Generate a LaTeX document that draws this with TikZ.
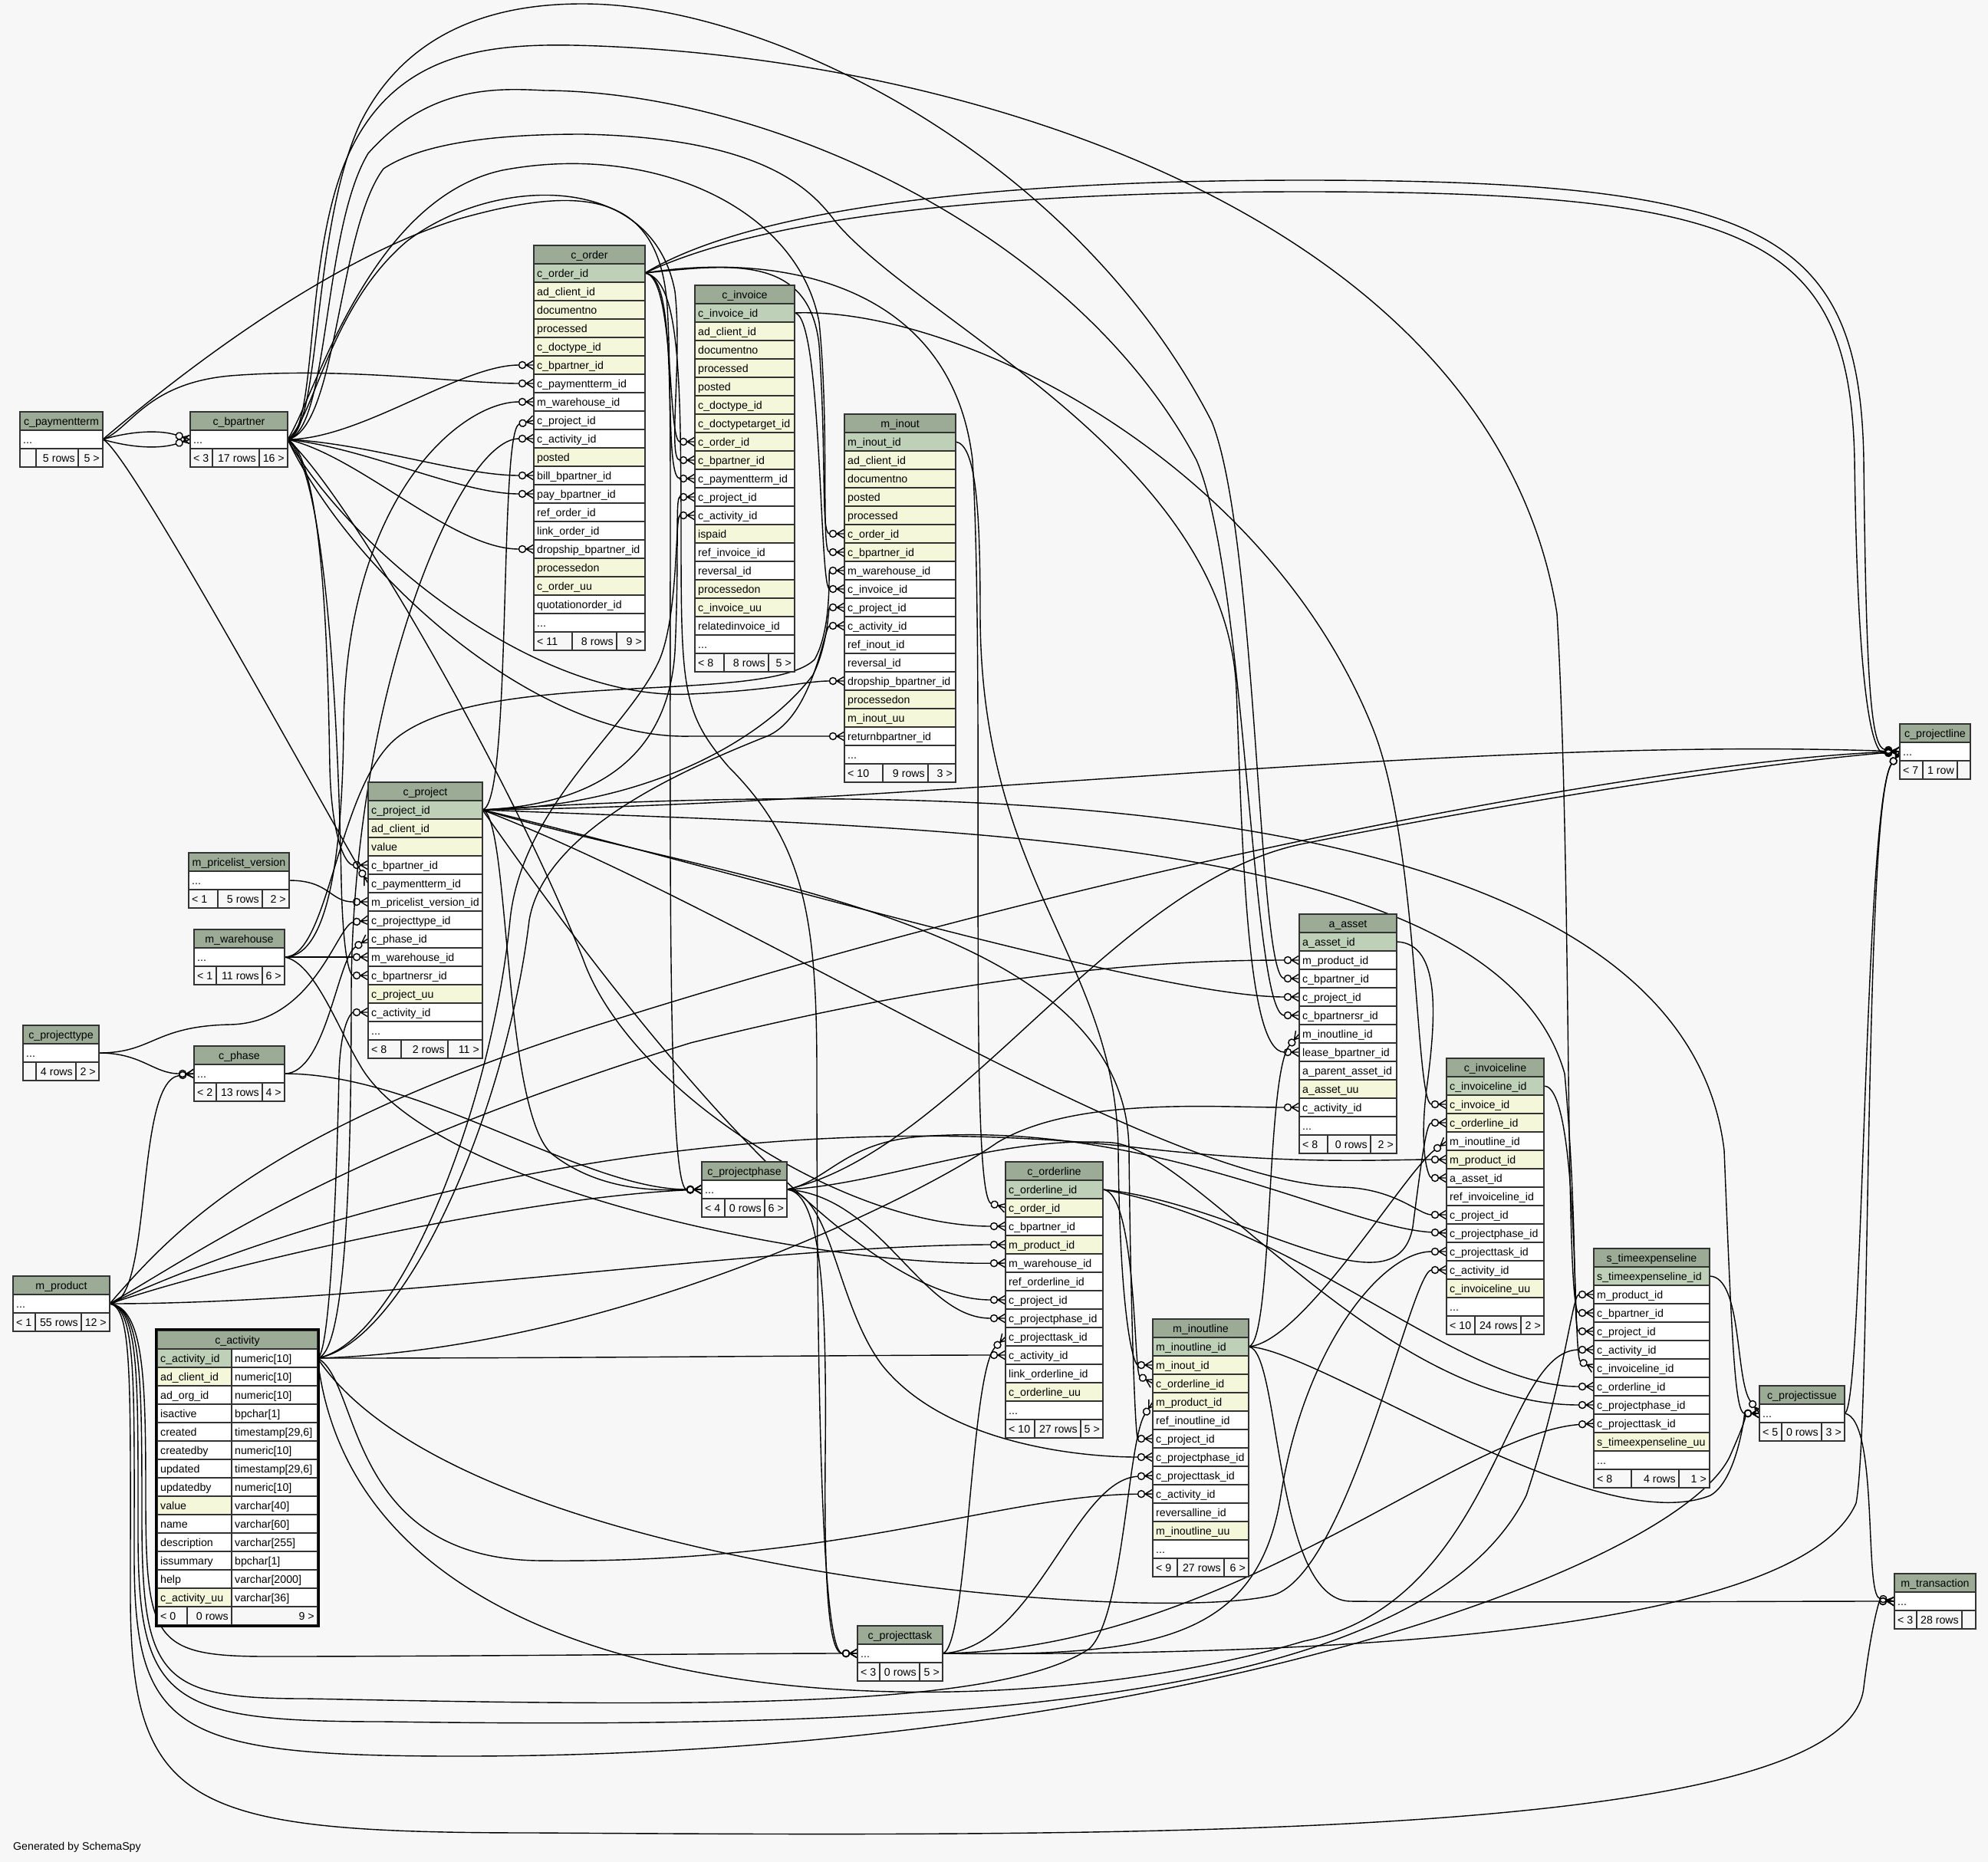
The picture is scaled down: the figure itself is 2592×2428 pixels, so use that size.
\documentclass[tikz,border=0pt]{standalone}
\usepackage{fontspec}
\setmainfont{Liberation Sans}
\usetikzlibrary{positioning}
\pgfdeclarelayer{background}
\pgfsetlayers{background,main}

\definecolor{hdrcol}{HTML}{9BAB96}
\definecolor{pkcol}{HTML}{BED1B8}
\definecolor{ixcol}{HTML}{F4F7DA}
\definecolor{bgcol}{HTML}{F7F7F7}
\definecolor{linecol}{HTML}{333333}

\newcommand\tblfont{\fontsize{14.2pt}{17pt}\selectfont}
\newcommand\more{...}

\pgfdeclarearrow{
  name = crowodot,
  cache = false,
  setup code = {
    \pgfarrowssettipend{0pt}
    \pgfarrowssetlineend{-19.5pt}
    \pgfarrowssetvisualbackend{-19.5pt}
    \pgfarrowssetbackend{-19.5pt}
    \pgfarrowshullpoint{0pt}{6pt}
    \pgfarrowshullpoint{0pt}{-6pt}
    \pgfarrowshullpoint{-19.5pt}{4.5pt}
    \pgfarrowshullpoint{-19.5pt}{-4.5pt}
  },
  drawing code = {
    \pgfsetdash{}{0pt}
    \pgfpathmoveto{\pgfqpoint{0pt}{6pt}}
    \pgfpathlineto{\pgfqpoint{-10pt}{0pt}}
    \pgfpathlineto{\pgfqpoint{0pt}{-6pt}}
    \pgfpathmoveto{\pgfqpoint{-10.5pt}{0pt}}
    \pgfpathlineto{\pgfqpoint{0pt}{0pt}}
    \pgfusepathqstroke
    \pgfpathcircle{\pgfqpoint{-15pt}{0pt}}{4.5pt}
    \pgfusepathqstroke
  }
}

\tikzset{
  cell/.style={draw=linecol, line width=1.4pt, minimum height=24pt, inner sep=0pt, outer sep=0pt, anchor=north west},
  celltext/.style={anchor=base west, inner sep=0pt, font=\tblfont},
  fk/.style={draw=black, line width=1.4pt, -crowodot}
}

\newcommand\dbtable[6]{%
  \def\dbx{#2}\def\dby{#3}\def\dbw{#4}%
  \node[cell, fill=hdrcol, minimum width=#4pt] (#1) at (#2,#3) {};
  \node[celltext, anchor=base] (#1-t) at (#2+#4/2,#3+17) {#5};
  \foreach \txt/\col [count=\i] in {#6} {
    \node[cell, fill=\col, minimum width=#4pt] (#1-\i) at (#2,#3+24*\i) {};
    \node[celltext] (#1-\i-t) at (#2+4,#3+24*\i+17) {\txt};
    \xdef\dbrows{\i}
  }}

\newcommand\dbfooter[6]{%
  \pgfmathsetmacro\fy{\dby+24*(\dbrows+1)}%
  \pgfmathsetmacro\wa{#2-\dbx}%
  \pgfmathsetmacro\wb{#3-#2}%
  \pgfmathsetmacro\wc{\dbx+\dbw-#3}%
  \node[cell, fill=bgcol, minimum width=\wa pt] (#1-fa) at (\dbx,\fy) {};
  \node[cell, fill=bgcol, minimum width=\wb pt] (#1-fb) at (#2,\fy) {};
  \node[cell, fill=bgcol, minimum width=\wc pt] (#1-fc) at (#3,\fy) {};
  \node[celltext] (#1-fa-t) at (\dbx+4,\fy+17) {#4};
  \node[celltext, anchor=base east] (#1-fb-t) at (#3-4,\fy+17) {#5};
  \node[celltext, anchor=base east] (#1-fc-t) at (\dbx+\dbw-4,\fy+17) {#6};}

\begin{document}
\begin{tikzpicture}[x=1pt,y=-1pt]
\useasboundingbox (0,0) rectangle (2592,2428);

\dbtable{paymentterm}{26}{537}{108}{c\_paymentterm}{\more/white}
\dbfooter{paymentterm}{47}{102}{}{5 rows}{5 >}

\dbtable{bpartner}{248}{537}{127}{c\_bpartner}{\more/white}
\dbfooter{bpartner}{277}{338}{< 3}{17 rows}{16 >}

\dbtable{order}{696}{320}{145}{c\_order}{c\_order\_id/pkcol, ad\_client\_id/ixcol, documentno/ixcol, processed/ixcol, c\_doctype\_id/ixcol, c\_bpartner\_id/ixcol, c\_paymentterm\_id/white, m\_warehouse\_id/white, c\_project\_id/white, c\_activity\_id/white, posted/ixcol, bill\_bpartner\_id/white, pay\_bpartner\_id/white, ref\_order\_id/white, link\_order\_id/white, dropship\_bpartner\_id/white, processedon/ixcol, c\_order\_uu/ixcol, quotationorder\_id/white, \more/white}
\dbfooter{order}{746}{804}{< 11}{8 rows}{9 >}

\dbtable{invoice}{906}{372}{130}{c\_invoice}{c\_invoice\_id/pkcol, ad\_client\_id/ixcol, documentno/ixcol, processed/ixcol, posted/ixcol, c\_doctype\_id/ixcol, c\_doctypetarget\_id/ixcol, c\_order\_id/ixcol, c\_bpartner\_id/ixcol, c\_paymentterm\_id/white, c\_project\_id/white, c\_activity\_id/white, ispaid/ixcol, ref\_invoice\_id/white, reversal\_id/white, processedon/ixcol, c\_invoice\_uu/ixcol, relatedinvoice\_id/white, \more/white}
\dbfooter{invoice}{944}{1002}{< 8}{8 rows}{5 >}

\dbtable{inout}{1101}{540}{145}{m\_inout}{m\_inout\_id/pkcol, ad\_client\_id/ixcol, documentno/ixcol, posted/ixcol, processed/ixcol, c\_order\_id/ixcol, c\_bpartner\_id/ixcol, m\_warehouse\_id/white, c\_invoice\_id/white, c\_project\_id/white, c\_activity\_id/white, ref\_inout\_id/white, reversal\_id/white, dropship\_bpartner\_id/white, processedon/ixcol, m\_inout\_uu/ixcol, returnbpartner\_id/white, \more/white}
\dbfooter{inout}{1151}{1210}{< 10}{9 rows}{3 >}

\dbtable{project}{480}{1020}{149}{c\_project}{c\_project\_id/pkcol, ad\_client\_id/ixcol, value/ixcol, c\_bpartner\_id/white, c\_paymentterm\_id/white, m\_pricelist\_version\_id/white, c\_projecttype\_id/white, c\_phase\_id/white, m\_warehouse\_id/white, c\_bpartnersr\_id/white, c\_project\_uu/ixcol, c\_activity\_id/white, \more/white}
\dbfooter{project}{523}{584}{< 8}{2 rows}{11 >}

\dbtable{pricelist}{246}{1112}{131}{m\_pricelist\_version}{\more/white}
\dbfooter{pricelist}{284}{342}{< 1}{5 rows}{2 >}

\dbtable{warehouse}{253}{1212}{118}{m\_warehouse}{\more/white}
\dbfooter{warehouse}{282}{342}{< 1}{11 rows}{6 >}

\dbtable{phase}{253}{1364}{118}{c\_phase}{\more/white}
\dbfooter{phase}{282}{342}{< 2}{13 rows}{4 >}

\dbtable{projecttype}{30}{1337}{99}{c\_projecttype}{\more/white}
\dbfooter{projecttype}{47}{99}{}{4 rows}{2 >}

\dbtable{product}{17}{1664}{126}{m\_product}{\more/white}
\dbfooter{product}{46}{106}{< 1}{55 rows}{12 >}

\node[cell, fill=hdrcol, minimum width=209pt] (activity) at (205,1735) {};
\node[celltext, anchor=base] (activity-t) at (309.5,1752) {c\_activity};
\foreach \nm/\ty/\col [count=\i] in {c\_activity\_id/numeric[10]/pkcol, ad\_client\_id/numeric[10]/ixcol, ad\_org\_id/numeric[10]/white, isactive/bpchar[1]/white, created/{timestamp[29,6]}/white, createdby/numeric[10]/white, updated/{timestamp[29,6]}/white, updatedby/numeric[10]/white, value/varchar[40]/ixcol, name/varchar[60]/white, description/varchar[255]/white, issummary/bpchar[1]/white, help/varchar[2000]/white, c\_activity\_uu/varchar[36]/ixcol} {
  \node[cell, fill=\col, minimum width=97pt] (activity-n\i) at (205,1735+24*\i) {};
  \node[celltext] (activity-n\i-t) at (209,1752+24*\i) {\nm};
  \node[cell, fill=white, minimum width=112pt] (activity-\i) at (302,1735+24*\i) {};
  \node[celltext] (activity-\i-t) at (306,1752+24*\i) {\ty};
}
\node[cell, fill=bgcol, minimum width=39pt] (activity-fa) at (205,2095) {};
\node[cell, fill=bgcol, minimum width=58pt] (activity-fb) at (244,2095) {};
\node[cell, fill=bgcol, minimum width=112pt] (activity-fc) at (302,2095) {};
\node[celltext] (activity-fa-t) at (209,2112) {< 0};
\node[celltext, anchor=base east] (activity-fb-t) at (298,2112) {0 rows};
\node[celltext, anchor=base east] (activity-fc-t) at (410,2112) {9 >};
\draw[line width=3pt, black] (203.5,1733.5) rectangle (415.5,2120.5);

\dbtable{projectphase}{915}{1515}{111}{c\_projectphase}{\more/white}
\dbfooter{projectphase}{945}{997}{< 4}{0 rows}{6 >}

\dbtable{projecttask}{1118}{2120}{111}{c\_projecttask}{\more/white}
\dbfooter{projecttask}{1147}{1199}{< 3}{0 rows}{5 >}

\dbtable{orderline}{1311}{1515}{127}{c\_orderline}{c\_orderline\_id/pkcol, c\_order\_id/ixcol, c\_bpartner\_id/white, m\_product\_id/ixcol, m\_warehouse\_id/white, ref\_orderline\_id/white, c\_project\_id/white, c\_projectphase\_id/white, c\_projecttask\_id/white, c\_activity\_id/white, link\_orderline\_id/white, c\_orderline\_uu/ixcol, \more/white}
\dbfooter{orderline}{1349}{1409}{< 10}{27 rows}{5 >}

\dbtable{inoutline}{1503}{1720}{125}{m\_inoutline}{m\_inoutline\_id/pkcol, m\_inout\_id/ixcol, c\_orderline\_id/ixcol, m\_product\_id/ixcol, ref\_inoutline\_id/white, c\_project\_id/white, c\_projectphase\_id/white, c\_projecttask\_id/white, c\_activity\_id/white, reversalline\_id/white, m\_inoutline\_uu/ixcol, \more/white}
\dbfooter{inoutline}{1535}{1596}{< 9}{27 rows}{6 >}

\dbtable{asset}{1694}{1192}{127}{a\_asset}{a\_asset\_id/pkcol, m\_product\_id/white, c\_bpartner\_id/white, c\_project\_id/white, c\_bpartnersr\_id/white, m\_inoutline\_id/white, lease\_bpartner\_id/white, a\_parent\_asset\_id/white, a\_asset\_uu/ixcol, c\_activity\_id/white, \more/white}
\dbfooter{asset}{1731}{1787}{< 8}{0 rows}{2 >}

\dbtable{invoiceline}{1886}{1380}{127}{c\_invoiceline}{c\_invoiceline\_id/pkcol, c\_invoice\_id/ixcol, c\_orderline\_id/ixcol, m\_inoutline\_id/white, m\_product\_id/ixcol, a\_asset\_id/white, ref\_invoiceline\_id/white, c\_project\_id/white, c\_projectphase\_id/white, c\_projecttask\_id/white, c\_activity\_id/white, c\_invoiceline\_uu/ixcol, \more/white}
\dbfooter{invoiceline}{1923}{1983}{< 10}{24 rows}{2 >}

\dbtable{timeexpense}{2078}{1628}{151}{s\_timeexpenseline}{s\_timeexpenseline\_id/pkcol, m\_product\_id/white, c\_bpartner\_id/white, c\_project\_id/white, c\_activity\_id/white, c\_invoiceline\_id/white, c\_orderline\_id/white, c\_projectphase\_id/white, c\_projecttask\_id/white, s\_timeexpenseline\_uu/ixcol, \more/white}
\dbfooter{timeexpense}{2127}{2189}{< 8}{4 rows}{1 >}

\dbtable{projectissue}{2294}{1807}{111}{c\_projectissue}{\more/white}
\dbfooter{projectissue}{2323}{2375}{< 5}{0 rows}{3 >}

\dbtable{transaction}{2470}{2052}{106}{m\_transaction}{\more/white}
\dbfooter{transaction}{2499}{2558}{< 3}{28 rows}{}

\dbtable{projectline}{2477}{944}{92}{c\_projectline}{\more/white}
\dbfooter{projectline}{2507}{2552}{< 7}{1 row}{}

\node[celltext] (credit) at (17,2412) {Generated by SchemaSpy};

\begin{pgfonlayer}{background}
\fill[bgcol] (0,0) rectangle (2592,2428);

\draw[fk] (paymentterm-1.east) .. controls (175,561) and (210,561) .. (bpartner-1.west);
\draw[fk] (paymentterm-1.east) .. controls (175,585) and (210,585) .. (bpartner-1.west);
\draw[fk] (paymentterm-1.east) .. controls (170,560) and (190,500) .. (300,490) .. controls (450,478) and (600,500) .. (order-7.west);
\draw[fk] (paymentterm-1.east) .. controls (220,500) and (420,340) .. (600,285) .. controls (760,240) and (860,250) .. (870,400) .. controls (876,500) and (870,624) .. (invoice-10.west);
\draw[fk] (paymentterm-1.east) .. controls (165,583) and (420,1050) .. (project-5.west);

\draw[fk] (bpartner-1.east) .. controls (470,573) and (600,476) .. (order-6.west);
\draw[fk] (bpartner-1.east) .. controls (480,578) and (600,620) .. (order-12.west);
\draw[fk] (bpartner-1.east) .. controls (480,585) and (600,644) .. (order-13.west);
\draw[fk] (bpartner-1.east) .. controls (470,595) and (590,716) .. (order-16.west);
\draw[fk] (bpartner-1.east) .. controls (410,545) and (430,400) .. (530,315) .. controls (640,230) and (850,220) .. (880,380) .. controls (890,470) and (870,600) .. (invoice-9.west);
\draw[fk] (bpartner-1.east) .. controls (410,520) and (480,260) .. (655,222) .. controls (850,185) and (1040,270) .. (1068,420) .. controls (1082,560) and (1070,720) .. (inout-7.west);
\draw[fk] (bpartner-1.east) .. controls (460,720) and (700,915) .. (900,905) .. controls (1010,900) and (1050,888) .. (inout-14.west);
\draw[fk] (bpartner-1.east) .. controls (460,750) and (700,965) .. (900,960) .. controls (1000,960) and (1050,960) .. (inout-17.west);
\draw[fk] (bpartner-1.east) .. controls (425,600) and (428,900) .. (430,1000) .. controls (432,1090) and (450,1128) .. (project-4.west);
\draw[fk] (bpartner-1.east) .. controls (430,620) and (442,1000) .. (445,1150) .. controls (447,1240) and (455,1272) .. (project-10.west);
\draw[fk] (bpartner-1.east) .. controls (420,560) and (405,300) .. (470,160) .. controls (540,20) and (680,5) .. (760,5) .. controls (1000,5) and (1400,200) .. (1580,550) .. controls (1640,700) and (1640,1276) .. (asset-3.west);
\draw[fk] (bpartner-1.east) .. controls (430,560) and (420,300) .. (480,200) .. controls (560,110) and (650,115) .. (711,118) .. controls (1000,120) and (1400,300) .. (1560,600) .. controls (1625,750) and (1632,1324) .. (asset-5.west);
\draw[fk] (bpartner-1.east) .. controls (440,560) and (440,300) .. (500,220) .. controls (560,180) and (680,175) .. (760,175) .. controls (1000,180) and (1060,250) .. (1090,290) .. controls (1200,420) and (1600,600) .. (1612,900) .. controls (1620,1100) and (1625,1372) .. (asset-7.west);
\draw[fk] (bpartner-1.east) .. controls (450,640) and (660,1000) .. (760,1250) .. controls (820,1420) and (1100,1599) .. (orderline-3.west);
\draw[fk] (bpartner-1.east) .. controls (415,560) and (395,330) .. (455,200) .. controls (520,60) and (650,55) .. (780,60) .. controls (1300,80) and (1950,300) .. (2030,800) .. controls (2050,1150) and (2040,1712) .. (timeexpense-3.west);

\draw[fk] (order-1.east) .. controls (880,360) and (870,576) .. (invoice-8.west);
\draw[fk] (order-1.east) .. controls (950,345) and (1055,330) .. (1068,450) .. controls (1078,600) and (1070,696) .. (inout-6.west);
\draw[fk] (order-1.east) .. controls (1000,330) and (1240,360) .. (1268,600) .. controls (1285,900) and (1262,1560) .. (orderline-2.west);
\draw[fk] (order-1.east) .. controls (872,360) and (874,450) .. (874,650) .. controls (874,1100) and (870,1551) .. (projectphase-1.west);
\draw[fk] (order-1.east) .. controls (885,365) and (888,480) .. (888,700) .. controls (888,900) and (890,930) .. (950,1000) .. controls (1050,1100) and (1065,1200) .. (1065,1400) .. controls (1065,1900) and (1075,2156) .. (projecttask-1.west);
\draw[fk] (order-1.east) .. controls (950,290) and (1200,235) .. (1700,235) .. controls (2300,235) and (2425,300) .. (2430,600) .. controls (2433,900) and (2440,975) .. (projectline-1.west);
\draw[fk] (order-1.east) .. controls (960,300) and (1200,250) .. (1700,250) .. controls (2290,250) and (2412,310) .. (2418,600) .. controls (2422,900) and (2440,985) .. (projectline-1.west);

\draw[fk] (invoice-1.east) .. controls (1072,410) and (1068,768) .. (inout-9.west);
\draw[fk] (invoice-1.east) .. controls (1250,400) and (1650,600) .. (1790,950) .. controls (1850,1100) and (1845,1440) .. (invoiceline-2.west);

\draw[fk] (inout-1.east) .. controls (1272,580) and (1278,660) .. (1278,800) .. controls (1278,1150) and (1455,1250) .. (1458,1500) .. controls (1460,1720) and (1478,1780) .. (inoutline-2.west);

\draw[fk] (project-1.east) .. controls (668,1050) and (650,560) .. (order-9.west);
\draw[fk] (project-1.east) .. controls (760,1050) and (870,1000) .. (880,850) .. controls (886,720) and (880,648) .. (invoice-11.west);
\draw[fk] (project-1.east) .. controls (850,1052) and (1000,960) .. (1060,880) .. controls (1080,840) and (1080,792) .. (inout-10.west);
\draw[fk] (project-1.east) .. controls (900,1120) and (1500,1300) .. (asset-4.west);
\draw[fk] (project-1.east) .. controls (1000,1200) and (1500,1540) .. (1750,1548) .. controls (1820,1550) and (1850,1584) .. (invoiceline-8.west);
\draw[fk] (project-1.east) .. controls (800,1300) and (1100,1695) .. (orderline-7.west);
\draw[fk] (project-1.east) .. controls (950,1150) and (1470,1200) .. (1472,1500) .. controls (1474,1700) and (1480,1876) .. (inoutline-6.west);
\draw[fk] (project-1.east) .. controls (1200,1080) and (1950,1080) .. (2040,1400) .. controls (2058,1600) and (2050,1736) .. (timeexpense-4.west);
\draw[fk] (project-1.east) .. controls (1500,1000) and (2200,1100) .. (2248,1500) .. controls (2258,1750) and (2262,1843) .. (projectissue-1.west);
\draw[fk] (project-1.east) .. controls (1200,1050) and (1900,960) .. (projectline-1.west);
\draw[fk] (project-1.east) .. controls (665,1062) and (655,1450) .. (720,1505) .. controls (790,1560) and (880,1551) .. (projectphase-1.west);

\draw[fk] (activity-1.east) .. controls (445,1765) and (458,1600) .. (458,1300) .. controls (458,900) and (600,572) .. (order-10.west);
\draw[fk] (activity-1.east) .. controls (520,1750) and (640,1450) .. (665,1200) .. controls (680,1050) and (820,950) .. (860,860) .. controls (885,800) and (880,672) .. (invoice-12.west);
\draw[fk] (activity-1.east) .. controls (530,1750) and (660,1450) .. (690,1200) .. controls (710,1080) and (900,1000) .. (1000,960) .. controls (1060,935) and (1075,816) .. (inout-11.west);
\draw[fk] (activity-1.east) .. controls (432,1765) and (440,1500) .. (442,1400) .. controls (444,1335) and (458,1320) .. (project-12.west);
\draw[fk] (activity-1.east) .. controls (800,1760) and (1200,1560) .. (1300,1490) .. controls (1400,1430) and (1580,1444) .. (asset-10.west);
\draw[fk] (activity-1.east) .. controls (600,2050) and (1500,2120) .. (1660,2080) .. controls (1760,2050) and (1840,1656) .. (invoiceline-11.west);
\draw[fk] (activity-1.east) .. controls (800,1771) and (1100,1767) .. (orderline-10.west);
\draw[fk] (activity-1.east) .. controls (470,1800) and (450,2030) .. (700,2035) .. controls (1100,2040) and (1300,1950) .. (inoutline-9.west);
\draw[fk] (activity-1.east) .. controls (470,2260) and (1300,2260) .. (1700,2140) .. controls (1950,2090) and (1960,1760) .. (timeexpense-5.west);

\draw[fk] (warehouse-1.east) -- (project-9.west);
\draw[fk] (warehouse-1.east) .. controls (420,1248) and (446,1150) .. (448,950) .. controls (450,650) and (600,524) .. (order-8.west);
\draw[fk] (warehouse-1.east) .. controls (430,1248) and (440,1020) .. (520,960) .. controls (640,870) and (1000,920) .. (1062,860) .. controls (1085,820) and (1080,744) .. (inout-8.west);
\draw[fk] (warehouse-1.east) .. controls (410,1255) and (440,1340) .. (470,1390) .. controls (560,1545) and (1050,1650) .. (orderline-5.west);

\draw[fk] (pricelist-1.east) .. controls (430,1148) and (430,1176) .. (project-6.west);

\draw[fk] (projecttype-1.east) .. controls (200,1373) and (200,1338) .. (300,1336) .. controls (410,1334) and (440,1205) .. (project-7.west);
\draw[fk] (projecttype-1.east) .. controls (185,1373) and (200,1400) .. (phase-1.west);

\draw[fk] (phase-1.east) .. controls (425,1400) and (440,1250) .. (project-8.west);
\draw[fk] (phase-1.east) .. controls (550,1400) and (760,1551) .. (projectphase-1.west);

\draw[fk] (product-1.east) .. controls (200,1700) and (175,1410) .. (phase-1.west);
\draw[fk] (product-1.east) .. controls (230,1600) and (350,1470) .. (800,1330) .. controls (1500,1110) and (2200,990) .. (projectline-1.west);
\draw[fk] (product-1.east) .. controls (280,1620) and (450,1500) .. (900,1360) .. controls (1300,1260) and (1550,1252) .. (asset-2.west);
\draw[fk] (product-1.east) .. controls (320,1640) and (700,1560) .. (projectphase-1.west);
\draw[fk] (product-1.east) .. controls (500,1700) and (1000,1623) .. (orderline-4.west);
\draw[fk] (product-1.east) .. controls (450,1560) and (950,1440) .. (1470,1495) .. controls (1680,1520) and (1800,1512) .. (invoiceline-5.west);
\draw[fk] (product-1.east) .. controls (188,1705) and (190,1800) .. (190,1950) .. controls (190,2140) and (200,2160) .. (350,2160) .. controls (600,2160) and (950,2156) .. (projecttask-1.west);
\draw[fk] (product-1.east) .. controls (185,1705) and (185,1800) .. (185,1980) .. controls (185,2190) and (210,2215) .. (400,2215) .. controls (900,2225) and (1300,2230) .. (1420,2150) .. controls (1465,2110) and (1470,1880) .. (inoutline-4.west);
\draw[fk] (product-1.east) .. controls (182,1705) and (180,1800) .. (180,2000) .. controls (180,2220) and (220,2245) .. (500,2245) .. controls (1200,2255) and (1850,2230) .. (1990,1950) .. controls (2040,1800) and (2050,1688) .. (timeexpense-2.west);
\draw[fk] (product-1.east) .. controls (178,1705) and (175,1800) .. (175,2030) .. controls (175,2260) and (230,2290) .. (600,2290) .. controls (1500,2290) and (2180,2050) .. (2255,1900) .. controls (2268,1870) and (2280,1843) .. (projectissue-1.west);
\draw[fk] (product-1.east) .. controls (173,1705) and (170,1800) .. (170,2080) .. controls (170,2360) and (250,2390) .. (700,2390) .. controls (1500,2395) and (2410,2400) .. (2430,2200) .. controls (2440,2120) and (2450,2088) .. (transaction-1.west);

\draw[fk] (projectphase-1.east) .. controls (1072,1555) and (1078,1700) .. (1076,1900) .. controls (1074,2110) and (1085,2156) .. (projecttask-1.west);
\draw[fk] (projectphase-1.east) .. controls (1150,1560) and (1200,1719) .. (orderline-8.west);
\draw[fk] (projectphase-1.east) .. controls (1085,1558) and (1090,1700) .. (1150,1780) .. controls (1230,1880) and (1400,1900) .. (inoutline-7.west);
\draw[fk] (projectphase-1.east) .. controls (1080,1540) and (1100,1490) .. (1200,1482) .. controls (1500,1460) and (1750,1600) .. (invoiceline-9.west);
\draw[fk] (projectphase-1.east) .. controls (1150,1545) and (1300,1480) .. (1450,1490) .. controls (1560,1500) and (1800,1832) .. (timeexpense-8.west);
\draw[fk] (projectphase-1.east) .. controls (1250,1500) and (1450,1150) .. (1700,1100) .. controls (2000,1040) and (2300,995) .. (projectline-1.west);

\draw[fk] (projecttask-1.east) .. controls (1262,2150) and (1265,1790) .. (orderline-9.west);
\draw[fk] (projecttask-1.east) .. controls (1350,2150) and (1400,1930) .. (inoutline-8.west);
\draw[fk] (projecttask-1.east) .. controls (1500,2160) and (1640,2140) .. (1670,1950) .. controls (1700,1760) and (1800,1632) .. (invoiceline-10.west);
\draw[fk] (projecttask-1.east) .. controls (1600,2150) and (1900,1870) .. (timeexpense-9.west);
\draw[fk] (projecttask-1.east) .. controls (1800,2160) and (2350,2120) .. (2420,1960) .. controls (2440,1850) and (2430,1050) .. (projectline-1.west);

\draw[fk] (orderline-1.east) .. controls (1482,1555) and (1478,1790) .. (inoutline-3.west);
\draw[fk] (orderline-1.east) .. controls (1620,1570) and (1820,1720) .. (1842,1600) .. controls (1855,1500) and (1860,1464) .. (invoiceline-3.west);
\draw[fk] (orderline-1.east) .. controls (1700,1600) and (1900,1808) .. (timeexpense-7.west);

\draw[fk] (inoutline-1.east) .. controls (1660,1750) and (1650,1400) .. (asset-6.west);
\draw[fk] (inoutline-1.east) .. controls (1700,1750) and (1830,1530) .. (invoiceline-4.west);
\draw[fk] (inoutline-1.east) .. controls (1720,1760) and (2080,2010) .. (2230,1950) .. controls (2265,1930) and (2275,1843) .. (projectissue-1.west);
\draw[fk] (inoutline-1.east) .. controls (1670,1760) and (1660,2085) .. (1760,2088) .. controls (2000,2090) and (2300,2088) .. (transaction-1.west);

\draw[fk] (asset-1.east) .. controls (1880,1230) and (1872,1330) .. (1860,1420) .. controls (1850,1500) and (1862,1536) .. (invoiceline-6.west);
\draw[fk] (invoiceline-1.east) .. controls (2060,1416) and (2050,1770) .. (timeexpense-6.west);
\draw[fk] (timeexpense-1.east) .. controls (2272,1665) and (2262,1800) .. (projectissue-1.west);
\draw[fk] (projectissue-1.east) .. controls (2450,1850) and (2430,2080) .. (transaction-1.west);
\draw[fk] (projectissue-1.east) .. controls (2430,1840) and (2430,1050) .. (projectline-1.west);
\end{pgfonlayer}
\end{tikzpicture}
\end{document}
